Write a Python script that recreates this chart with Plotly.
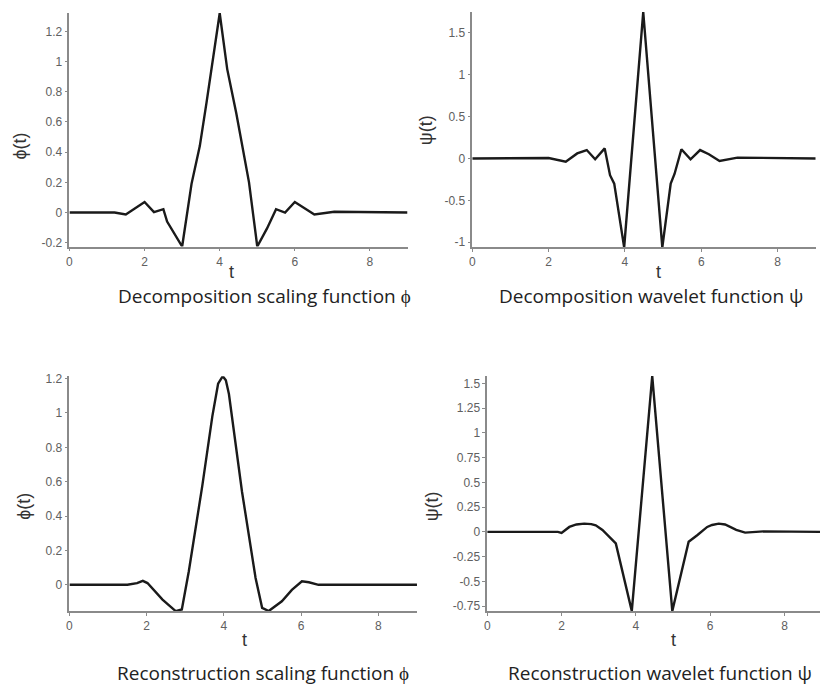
import plotly.graph_objects as go

W, H = 820, 690

# ---- data ----
t_dec_phi = [0, 1.0, 1.2, 1.5, 2.0, 2.25, 2.5, 2.6, 3.0, 3.25, 3.47, 3.65, 4.0, 4.2, 4.44, 4.78, 5.0, 5.26, 5.5, 5.74, 6.0, 6.52, 7.05, 9.0]
v_dec_phi = [0, 0.003, 0.0, -0.013, 0.07, 0.003, 0.022, -0.06, -0.225, 0.19, 0.44, 0.73, 1.32, 0.95, 0.66, 0.2, -0.225, -0.105, 0.022, 0.0, 0.07, -0.013, 0.005, 0.0]

t_dec_psi = [0, 2.0, 2.45, 2.75, 3.0, 3.22, 3.47, 3.61, 3.72, 3.98, 4.48, 4.98, 5.2, 5.3, 5.48, 5.72, 5.97, 6.2, 6.48, 6.95, 9.0]
v_dec_psi = [0, 0.005, -0.04, 0.06, 0.1, -0.01, 0.12, -0.2, -0.3, -1.06, 1.745, -1.06, -0.3, -0.185, 0.11, -0.01, 0.1, 0.05, -0.03, 0.01, 0]

t_rec_phi = [0, 1.5, 1.75, 1.9, 2.02, 2.41, 2.75, 2.91, 3.09, 3.44, 3.7, 3.85, 3.97, 4.05, 4.13, 4.47, 4.82, 4.99, 5.16, 5.5, 5.76, 6.02, 6.2, 6.45, 9.0]
v_rec_phi = [0, 0, 0.01, 0.023, 0.01, -0.086, -0.153, -0.144, 0.077, 0.576, 0.98, 1.17, 1.214, 1.19, 1.11, 0.54, 0.04, -0.134, -0.153, -0.096, -0.03, 0.02, 0.015, 0.0, 0]

t_rec_psi = [0, 1.9, 2.0, 2.21, 2.4, 2.61, 2.8, 2.92, 3.1, 3.24, 3.46, 3.89, 4.44, 4.98, 5.42, 5.65, 5.92, 6.05, 6.23, 6.4, 6.54, 6.7, 6.94, 7.43, 9.0]
v_rec_psi = [0, 0, -0.01, 0.05, 0.075, 0.083, 0.078, 0.066, 0.02, -0.034, -0.117, -0.8, 1.573, -0.8, -0.1, -0.034, 0.05, 0.07, 0.083, 0.075, 0.05, 0.02, -0.007, 0.005, 0]

x_ticks = [0, 2, 4, 6, 8]
y_ticks_dec_phi = [-0.2, 0, 0.2, 0.4, 0.6, 0.8, 1, 1.2]
y_ticks_dec_psi = [-1, -0.5, 0, 0.5, 1, 1.5]
y_ticks_rec_phi = [0, 0.2, 0.4, 0.6, 0.8, 1, 1.2]
y_ticks_rec_psi = [-0.75, -0.5, -0.25, 0, 0.25, 0.5, 0.75, 1, 1.25, 1.5]

titles = ["Decomposition scaling function \u03d5", "Decomposition wavelet function \u03c8",
          "Reconstruction scaling function \u03d5", "Reconstruction wavelet function \u03c8"]
ylabels = ["\u03d5(t)", "\u03c8(t)", "\u03d5(t)", "\u03c8(t)"]

# ---- layout geometry (pixels) ----
panels = [
    dict(t=t_dec_phi, v=v_dec_phi, x0=66.7, x1=406.0, xr=[0, 9], yt=8.6, yb=245.0, yr=[-0.225, 1.325], yticks=y_ticks_dec_phi,
         tx=229, ty=271, title_x=262, title_y=295, ylx=17, yly=143),
    dict(t=t_dec_psi, v=v_dec_psi, x0=471.0, x1=815.7, xr=[0, 9], yt=7.8, yb=245.8, yr=[-1.06, 1.75], yticks=y_ticks_dec_psi,
         tx=658, ty=271, title_x=650, title_y=295, ylx=424, yly=127),
    dict(t=t_rec_phi, v=v_rec_phi, x0=66.7, x1=415.5, xr=[0, 9], yt=376.0, yb=613.3, yr=[-0.153, 1.214], yticks=y_ticks_rec_phi,
         tx=242, ty=643, title_x=261, title_y=676, ylx=21, yly=507),
    dict(t=t_rec_psi, v=v_rec_psi, x0=486.0, x1=820.0, xr=[0, (820 - 486) / 37.3], yt=375.8, yb=613.3, yr=[-0.8, 1.575], yticks=y_ticks_rec_psi,
         tx=673, ty=643, title_x=659, title_y=676, ylx=430, yly=507),
]

fig = go.Figure()
annotations = []
layout_axes = {}
for i, p in enumerate(panels, start=1):
    sfx = "" if i == 1 else str(i)
    fig.add_trace(go.Scatter(x=p["t"], y=p["v"], mode="lines",
                             line=dict(color="#1a1a1a", width=2.4),
                             xaxis="x" + sfx, yaxis="y" + sfx, showlegend=False, hoverinfo="skip"))
    layout_axes["xaxis" + sfx] = dict(
        domain=[p["x0"] / W, p["x1"] / W], range=p["xr"], anchor="y" + sfx,
        tickvals=x_ticks, ticktext=[str(v) for v in x_ticks],
        showgrid=False, zeroline=False, showline=True, linecolor="#8a8a8a", linewidth=1.5,
        ticks="outside", ticklen=3, tickcolor="#8a8a8a",
        tickfont=dict(family="Arial", size=12, color="#606060"))
    layout_axes["yaxis" + sfx] = dict(
        domain=[1 - p["yb"] / H, 1 - p["yt"] / H], range=p["yr"], anchor="x" + sfx,
        tickvals=p["yticks"], ticktext=[("%g" % v) for v in p["yticks"]],
        showgrid=False, zeroline=False, showline=True, linecolor="#8a8a8a", linewidth=1.5,
        ticks="outside", ticklen=3, tickcolor="#8a8a8a",
        tickfont=dict(family="Arial", size=12, color="#606060"))
    annotations.append(dict(text="t", x=p["tx"] / W, y=1 - p["ty"] / H, xref="paper", yref="paper",
                            showarrow=False, xanchor="center", yanchor="middle",
                            font=dict(family="Arial", size=18, color="#333333")))
    annotations.append(dict(text=titles[i - 1], x=p["title_x"] / W, y=1 - p["title_y"] / H, xref="paper", yref="paper",
                            showarrow=False, xanchor="center", yanchor="middle",
                            font=dict(family="Open Sans", size=19, color="#222222")))
    annotations.append(dict(text=ylabels[i - 1], x=p["ylx"] / W, y=1 - p["yly"] / H, xref="paper", yref="paper",
                            showarrow=False, xanchor="center", yanchor="middle", textangle=-90,
                            font=dict(family="Arial", size=18, color="#333333")))

fig.update_layout(width=W, height=H, margin=dict(l=0, r=0, t=0, b=0),
                  paper_bgcolor="white", plot_bgcolor="white",
                  annotations=annotations, **layout_axes)

fig.write_html("out.html")
